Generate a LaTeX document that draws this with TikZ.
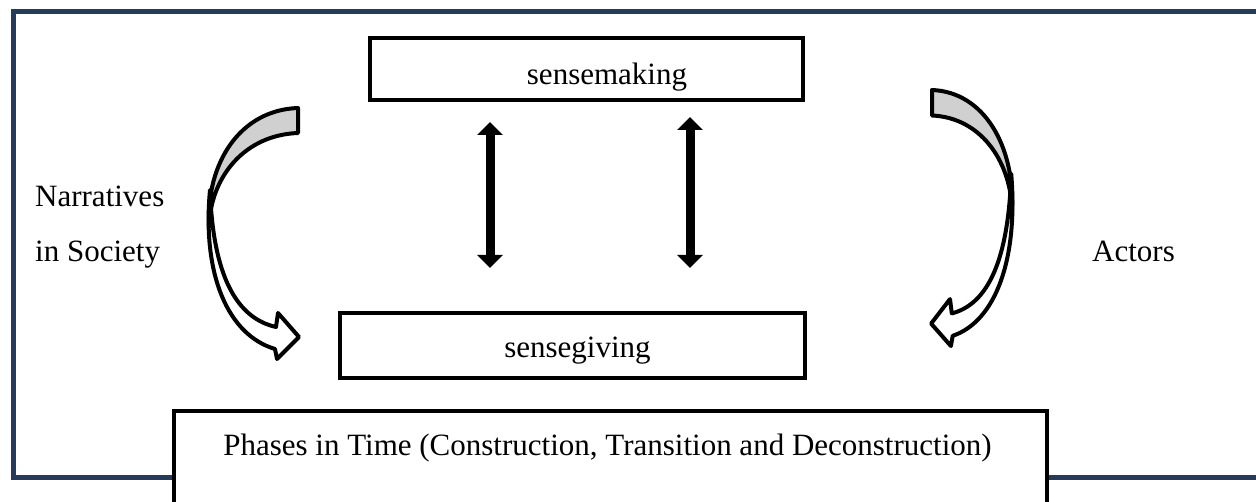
\documentclass[tikz,border=0pt]{standalone}
\usepackage{fontspec}
\setmainfont{Liberation Serif}
\usetikzlibrary{arrows.meta}
\usetikzlibrary{positioning}
\definecolor{framecol}{RGB}{36,60,90}
\definecolor{backgray}{RGB}{208,208,208}
\tikzset{box/.style = {draw, line width=4pt, fill=white, inner sep=0}}
\tikzset{lbl/.style = {font=\fontsize{31}{37}\selectfont, inner sep=0}}
\tikzset{biarrow/.style = {line width=9pt, {Triangle[width=25pt,length=13pt]}-{Triangle[width=25pt,length=13pt]}}}
\tikzset{ribbon/.style = {draw, line width=4pt, line join=round}}
% curved ribbon arrow, local origin at the top of its tail
\newcommand{\bentarrow}{%
  \filldraw[ribbon, fill=backgray] (0,0) .. controls (-58,2) and (-92,55) .. (-89,118)
      .. controls (-87,68) and (-53,27) .. (0,25) -- cycle;
  \filldraw[ribbon, fill=white] (-88,82) .. controls (-96,167) and (-70,227) .. (-23,241)
      -- (-21,251) -- (1,229) -- (-20,205) -- (-22,219)
      .. controls (-62,210) and (-85,167) .. (-88,82) -- cycle;}

\begin{document}
\begin{tikzpicture}[x=1pt, y=-1pt]
    \useasboundingbox (0,0) rectangle (1256,502);
    \clip (0,0) rectangle (1256,502);
    \draw [framecol, line width=5pt] (13,12) rectangle (1280,477);
    % boxes
    \node[box, minimum width=433, minimum height=62] (make) at (586.5,69) {};
    \node[box, minimum width=465, minimum height=65] (give) at (572.5,345.5) {};
    \node[box, minimum width=873, minimum height=140, anchor=north west] (phases) at (172,409) {};
    \node[lbl, anchor=base] (maketxt) at (607,85) {sensemaking};
    \node[lbl, anchor=base] (givetxt) at (577.5,358) {sensegiving};
    \node[lbl, anchor=base] (phasetxt) at (607.5,455) {Phases in Time (Construction, Transition and Deconstruction)};
    \node[lbl, anchor=base west] (narr) at (35,207) {Narratives};
    \node[lbl, anchor=base west] (soc) at (35,262) {in Society};
    \node[lbl, anchor=base west] (actors) at (1092,262) {Actors};
    % two-way arrows
    \coordinate (c1) at (490,0);
    \coordinate (c2) at (690,0);
    \draw [biarrow, shorten <=20pt, shorten >=43pt] (make.south -| c1) -- (give.north -| c1);
    \draw [biarrow, shorten <=15pt, shorten >=43pt] (make.south -| c2) -- (give.north -| c2);
    % curved arrows
    \begin{scope}[shift={(298,108)}]
        \bentarrow
    \end{scope}
    \begin{scope}[shift={(932,90)}, xscale=-0.9, yscale=1.02]
        \bentarrow
    \end{scope}
\end{tikzpicture}
\end{document}
